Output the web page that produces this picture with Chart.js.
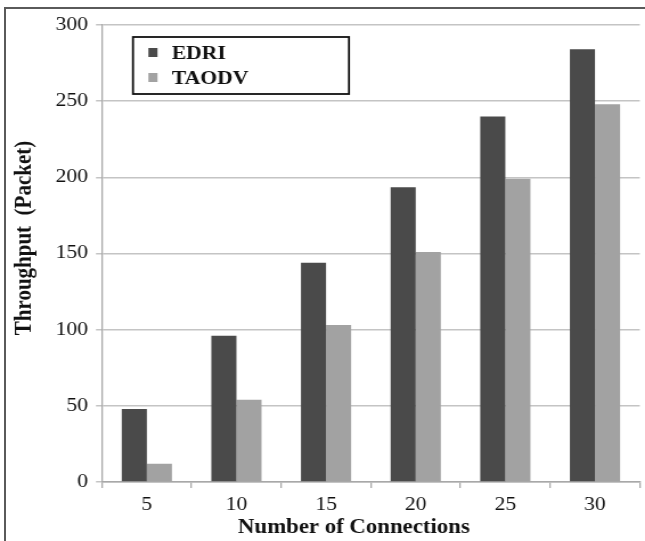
<!DOCTYPE html>
<html>
<head>
<meta charset="utf-8">
<script src="https://cdn.jsdelivr.net/npm/chart.js@4.4.1/dist/chart.umd.min.js"></script>
<style>
  html, body { margin: 0; padding: 0; background: #ffffff; }
  #wrap { position: relative; width: 645px; height: 541px; overflow: hidden; background: #ffffff; }
  #stage { position: absolute; left: 0; top: 0; width: 566px; height: 541px; transform: scaleX(1.1396); transform-origin: 0 0; }
  #frame { position: absolute; left: 4px; top: 7px; width: 700px; height: 600px; border: 2px solid #5a5a5a; box-sizing: border-box; pointer-events: none; }
</style>
</head>
<body>
<div id="wrap">
  <div id="stage"><canvas id="chart" width="566" height="541"></canvas></div>
  <div id="frame"></div>
</div>
<script>
// Throughput per number of connections
const connections = ['5', '10', '15', '20', '25', '30'];
const edri = [48, 96, 144, 193.5, 240, 284];
const taodv = [12, 54, 103, 151, 199, 248];
const yTicks = [0, 50, 100, 150, 200, 250, 300];
const xTitle = 'Number of Connections';
const yTitle = 'Throughput  (Packet)';

const serif = "'Liberation Serif', 'Times New Roman', serif";

// Boxed legend in the upper-left of the plot, plus the two axis titles
const decorations = {
  id: 'decorations',
  afterDraw(chart) {
    const ctx = chart.ctx;
    ctx.save();
    // legend box
    const x = 116.7, y = 37, w = 189.5, h = 57;
    ctx.strokeStyle = '#111111';
    ctx.lineWidth = 1.8;
    ctx.fillStyle = '#ffffff';
    ctx.fillRect(x, y, w, h);
    ctx.strokeRect(x, y, w, h);
    ctx.font = "bold 19px " + serif;
    ctx.textBaseline = 'middle';
    ctx.textAlign = 'left';
    chart.data.datasets.forEach((ds, i) => {
      const cy = y + 16 + i * 25;
      ctx.fillStyle = ds.backgroundColor;
      ctx.fillRect(x + 13.5, cy - 5, 8, 9);
      ctx.fillStyle = '#111111';
      ctx.fillText(ds.label, x + 34, cy + 1);
    });
    // axis titles
    ctx.fillStyle = '#111111';
    ctx.textAlign = 'center';
    ctx.font = "bold 20px " + serif;
    ctx.fillText(xTitle, 310.5, 528);
    ctx.translate(22, 238);
    ctx.rotate(-Math.PI / 2);
    ctx.font = "bold 21px " + serif;
    ctx.fillText(yTitle, 0, 0);
    ctx.restore();
  }
};

new Chart(document.getElementById('chart'), {
  type: 'bar',
  data: {
    labels: connections,
    datasets: [
      { label: 'EDRI', data: edri, backgroundColor: '#4a4a4a', borderWidth: 0 },
      { label: 'TAODV', data: taodv, backgroundColor: '#a2a2a2', borderWidth: 0 }
    ]
  },
  options: {
    responsive: false,
    animation: false,
    devicePixelRatio: 1,
    layout: { padding: { left: 4, right: 4.6, top: 25, bottom: 0 } },
    plugins: { legend: { display: false }, tooltip: { enabled: false } },
    datasets: { bar: { categoryPercentage: 0.56, barPercentage: 1.0 } },
    scales: {
      x: {
        grid: { drawOnChartArea: false, drawTicks: true, tickLength: 6, color: '#a8a8a8', lineWidth: 1.3 },
        border: { color: '#a8a8a8', width: 1.5 },
        ticks: { color: '#111111', font: { family: serif, size: 19 }, padding: 6, maxRotation: 0 },
        afterFit(scale) { scale.height = 541 - 482; }
      },
      y: {
        min: 0, max: 300,
        afterBuildTicks(scale) { scale.ticks = yTicks.map(v => ({ value: v })); },
        grid: { color: '#c4c4c4', lineWidth: 1.5, drawTicks: true, tickLength: 5.3 },
        border: { color: '#a8a8a8', width: 1.3 },
        ticks: { color: '#111111', font: { family: serif, size: 19 }, padding: 7 },
        afterFit(scale) { scale.width = 89.5 - 4; }
      }
    }
  },
  plugins: [decorations]
});
</script>
</body>
</html>
